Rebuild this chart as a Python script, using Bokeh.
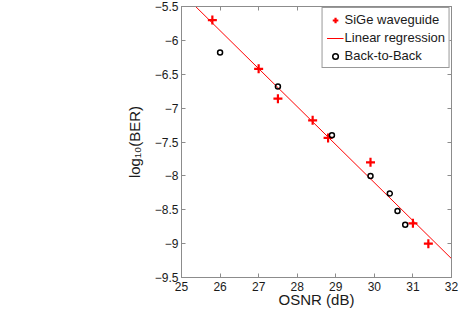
from bokeh.plotting import figure
from bokeh.models import Range1d, LinearAxis, FixedTicker, Legend, LegendItem, ColumnDataSource
from bokeh.embed import file_html
from bokeh.resources import INLINE
import numpy as np

# ---- data ----
sige_osnr = [25.8, 27.0, 27.5, 28.4, 28.8, 29.9, 31.0, 31.4]
sige_logber = [-5.70, -6.42, -6.86, -7.18, -7.44, -7.80, -8.70, -9.00]
b2b_osnr = [26.0, 27.5, 28.9, 29.9, 30.4, 30.6, 30.8]
b2b_logber = [-6.18, -6.68, -7.40, -8.00, -8.26, -8.52, -8.72]
reg_slope = -0.561
reg_intercept = 8.73
x_ticks = [25, 26, 27, 28, 29, 30, 31, 32]
y_ticks = [-9.5, -9, -8.5, -8, -7.5, -7, -6.5, -6, -5.5]

FONT = "Liberation Sans"
AXC = "#8c8c8c"

p = figure(width=463, height=311, output_backend="svg", toolbar_location=None,
           x_range=Range1d(25, 32), y_range=Range1d(-9.5, -5.5),
           min_border_left=181, min_border_right=12, min_border_top=6, min_border_bottom=34)
p.xgrid.visible = False
p.ygrid.visible = False
p.outline_line_color = AXC
p.background_fill_color = "white"
p.border_fill_color = "white"

def style(ax, ticks, show_labels=True):
    ax.ticker = FixedTicker(ticks=ticks)
    ax.axis_line_color = AXC
    ax.major_tick_line_color = AXC
    ax.major_tick_in = 4
    ax.major_tick_out = 0
    ax.minor_tick_line_color = None
    ax.major_label_text_font = FONT
    if show_labels:
        ax.major_label_text_color = "#1a1a1a"
        ax.major_label_text_font_size = "12px"
    else:
        ax.major_label_text_color = None
        ax.major_label_text_alpha = 0
        ax.major_label_text_font_size = "1px"
        ax.major_label_standoff = 0
    ax.axis_label_text_font = FONT
    ax.axis_label_text_font_style = "normal"
    ax.axis_label_text_color = "#1a1a1a"
    ax.axis_label_text_font_size = "15px"

style(p.xaxis[0], x_ticks)
style(p.yaxis[0], y_ticks)
p.xaxis[0].axis_label = "OSNR (dB)"
p.xaxis[0].major_label_standoff = 4
p.xaxis[0].axis_label_standoff = -3
p.yaxis[0].axis_label = "log\u2081\u2080(BER)"
p.yaxis[0].major_label_standoff = 3
p.yaxis[0].axis_label_standoff = 9

top = LinearAxis()
style(top, x_ticks, show_labels=False)
p.add_layout(top, "above")
right = LinearAxis()
style(right, y_ticks, show_labels=False)
p.add_layout(right, "right")

# regression line across the x range
xr = np.array([25.0, 32.0])
reg_src = ColumnDataSource(dict(x=xr, y=reg_slope * xr + reg_intercept))
r_line = p.line("x", "y", source=reg_src, line_color="red", line_width=1)

r_sige = p.scatter(sige_osnr, sige_logber, marker="cross", size=9, line_width=2.2,
                   line_color="red")
r_b2b = p.scatter(b2b_osnr, b2b_logber, marker="circle", size=5, line_width=1.5,
                  line_color="black", fill_color=None)

legend = Legend(items=[
    LegendItem(label="SiGe waveguide", renderers=[r_sige]),
    LegendItem(label="Linear regression", renderers=[r_line]),
    LegendItem(label="Back-to-Back", renderers=[r_b2b]),
], location="top_right")
legend.margin = 1
legend.padding = 4
legend.spacing = 3
legend.label_height = 14
legend.glyph_height = 14
legend.glyph_width = 17
legend.label_standoff = 1
legend.label_text_font = FONT
legend.label_text_font_size = "13px"
legend.label_text_color = "#1a1a1a"
legend.border_line_color = "#333333"
legend.border_line_width = 1
legend.background_fill_alpha = 1
p.add_layout(legend, "center")

open("out.html", "w").write(file_html(p, INLINE))
